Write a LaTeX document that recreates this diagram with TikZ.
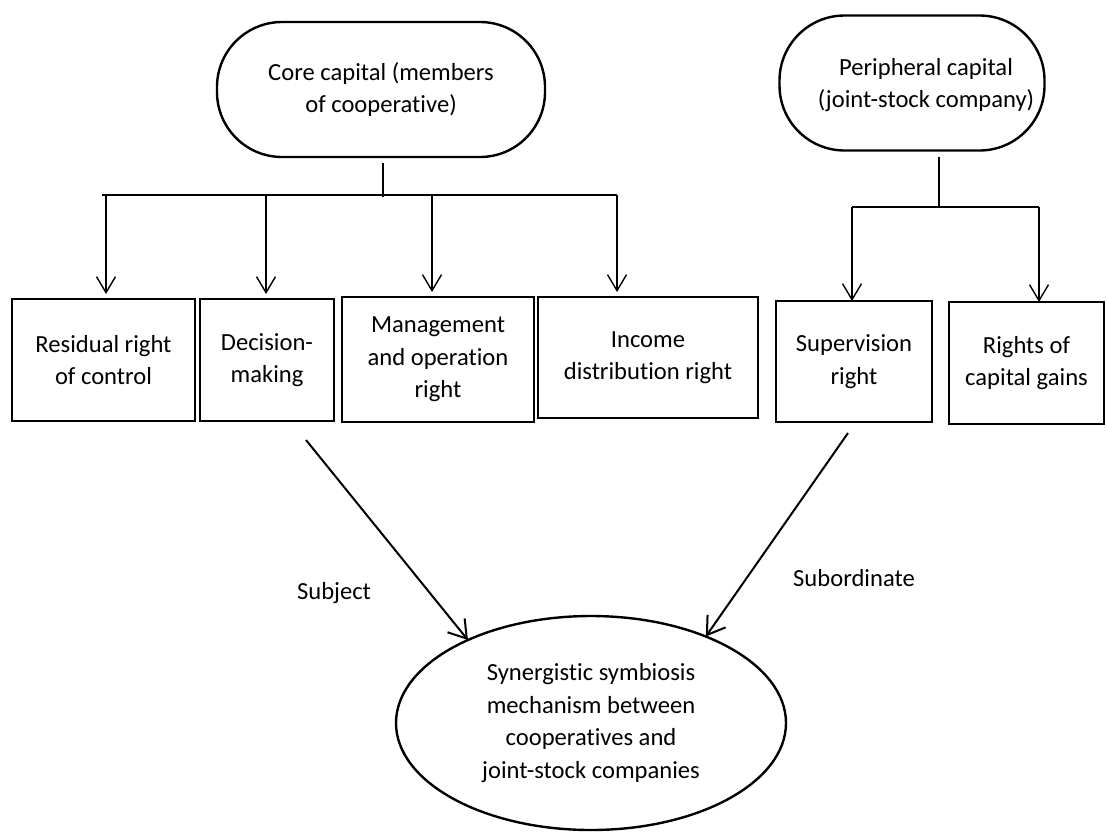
\documentclass[tikz,border=0pt]{standalone}
\usepackage{fontspec}
\setmainfont{Carlito}[Ligatures=NoCommon]
\usetikzlibrary{arrows.meta,shapes.geometric}
\begin{document}
\begin{tikzpicture}[x=1pt,y=-1pt,
  every node/.style={font=\fontsize{24.6}{32.5}\selectfont, align=center, inner sep=0pt, outer sep=0pt},
  capbox/.style={draw, line width=2.4pt, rounded corners=65pt, minimum height=135pt},
  rightbox/.style 2 args={draw, line width=2.6pt, minimum width=#1, minimum height=#2},
  conn/.style={line width=1.4pt},
  arr/.style={conn, -{Straight Barb[length=16pt,width=19pt]}},
  bigarr/.style={line width=2pt, -{Straight Barb[length=17pt,width=22pt]}}
]
\useasboundingbox (0,0) rectangle (1107,831);

% top capital boxes
\node[capbox, minimum width=328pt] (core) at (381,89.5) {Core capital (members\\of cooperative)};
\node[capbox, minimum width=265pt] (per) at (912,83) {};
\node (pert) at (926,85) {Peripheral capital\\(joint-stock company)};

% rights boxes
\node[rightbox={183pt}{122pt}] (res) at (103.5,360) {Residual right\\of control};
\node[rightbox={134pt}{122pt}] (dec) at (267,360) {Decision-\\making};
\node[rightbox={192pt}{125pt}] (man) at (438,359.5) {Management\\and operation\\right};
\node[rightbox={220pt}{121pt}] (inc) at (648,357.5) {Income\\distribution right};
\node[rightbox={156pt}{121pt}] (sup) at (854,361.5) {Supervision\\right};
\node[rightbox={155pt}{122pt}] (rig) at (1026.5,363) {Rights of\\capital gains};

% bottom ellipse
\node[ellipse, draw, line width=2.4pt, minimum width=390pt, minimum height=214pt] (syn) at (591,723)
  {Synergistic symbiosis\\mechanism between\\cooperatives and\\joint-stock companies};

% core connectors
\coordinate (cbar) at (383,195);
\coordinate (b0) at (102,195);
\coordinate (b1) at (106,195);
\coordinate (b2) at (266,195);
\coordinate (b3) at (432,195);
\coordinate (b4) at (617,195);
\draw[conn, shorten <=6pt] (core.south -| cbar) -- ([yshift=-2pt]cbar);
\draw[conn] (b0) -- (b4);
\draw[arr, shorten >=5pt] (b1) -- (b1 |- res.north);
\draw[arr, shorten >=5pt] (b2) -- (b2 |- dec.north);
\draw[arr, shorten >=5pt] (b3) -- (b3 |- man.north);
\draw[arr, shorten >=5pt] (b4) -- (b4 |- inc.north);

% peripheral connectors
\coordinate (pbar) at (939,207);
\coordinate (p1) at (852,207);
\coordinate (p2) at (1039,207);
\draw[conn, shorten <=6pt] (per.south -| pbar) -- (pbar);
\draw[conn] (p1) -- (p2);
\draw[arr] (p1) -- (p1 |- sup.north);
\draw[arr] (p2) -- (p2 |- rig.north);

% diagonal arrows
\coordinate (d1) at (306,440);
\coordinate (d2) at (848,433);
\draw[bigarr] (d1) -- (syn.146);
\draw[bigarr] (d2) -- (syn.37);

% labels
\node[anchor=base] (subj) at (334,599) {Subject};
\node[anchor=base] (subo) at (854,586) {Subordinate};
\end{tikzpicture}
\end{document}
